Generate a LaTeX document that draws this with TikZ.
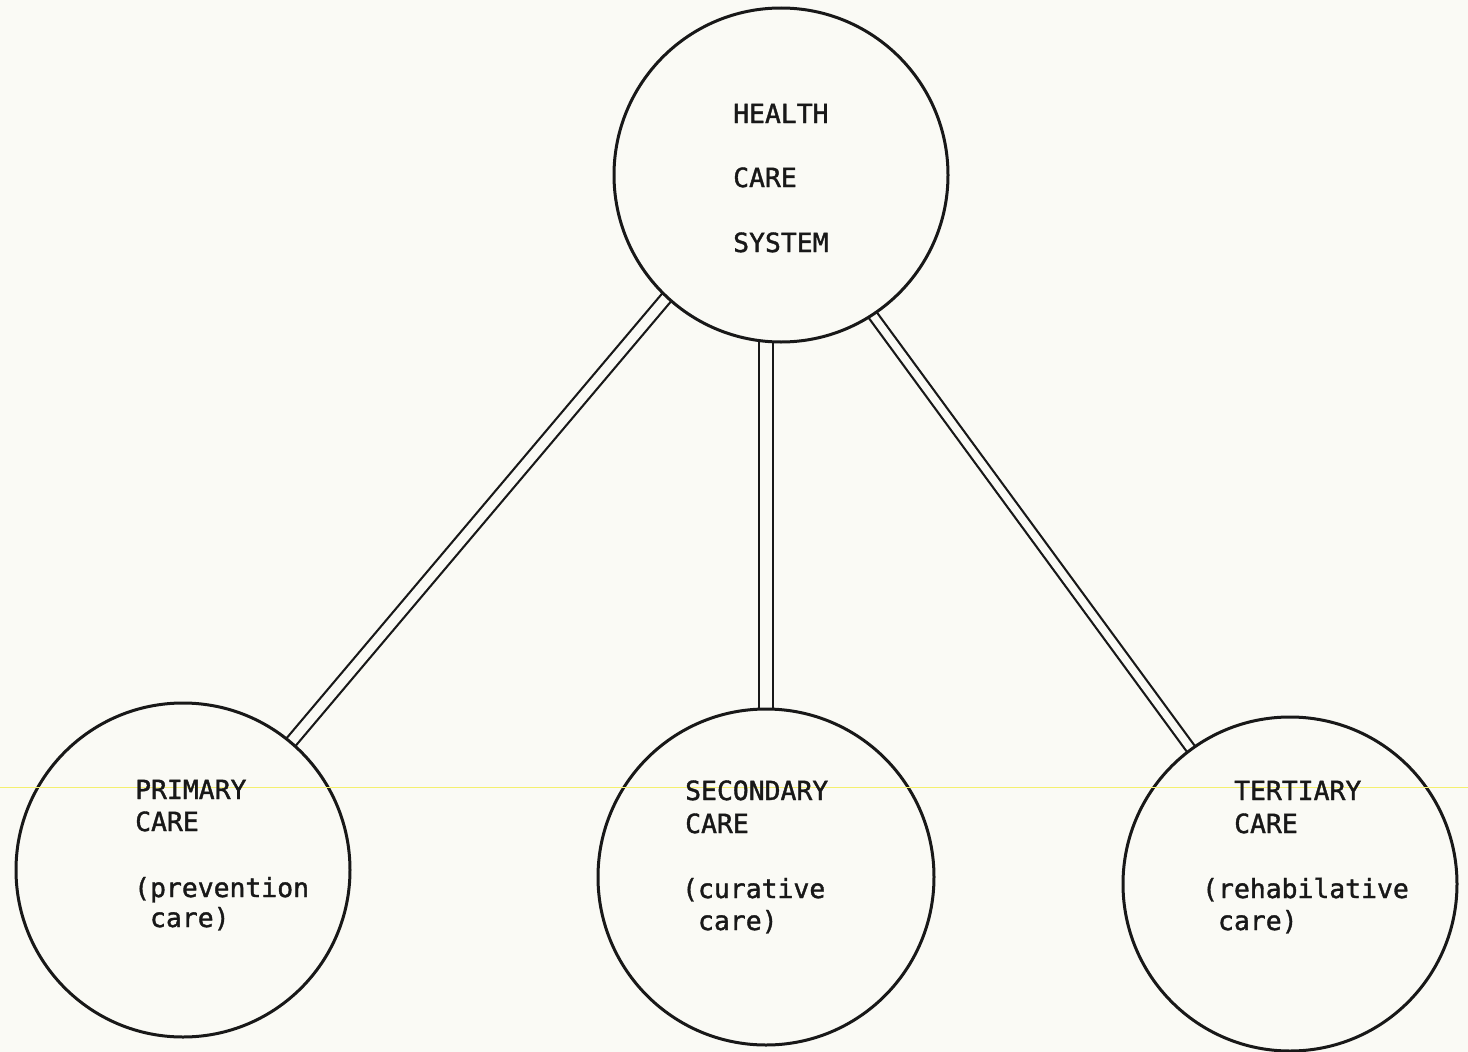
\documentclass[tikz,border=0pt]{standalone}
\usepackage{fontspec}
\newfontfamily\typer[FakeBold=1.4]{DejaVu Sans Mono}
\usetikzlibrary{backgrounds}
\definecolor{paper}{RGB}{250,250,245}
\definecolor{ink}{RGB}{24,24,24}
\definecolor{scanline}{RGB}{244,240,110}
\begin{document}
\begin{tikzpicture}[x=1pt,y=-1pt,
  ring/.style={circle, draw=ink, line width=3pt, fill=paper, inner sep=0pt},
  link/.style={draw=ink, line width=2.2pt, double=paper},
  lbl/.style={anchor=base west, inner sep=0pt, text=ink,
              font=\fontsize{26.4}{30}\selectfont\typer}]
  \useasboundingbox (0,0) rectangle (1468,1052);

  % the four circles
  \node[ring, minimum size=334pt] (top)  at (781,175) {};
  \node[ring, minimum size=334pt] (prim) at (183,870) {};
  \node[ring, minimum size=336pt] (sec)  at (766,877) {};
  \node[ring, minimum size=334pt] (tert) at (1290,884) {};
  \coordinate (hub) at (770,175);

  % paper and the double-line links, kept under the circles
  \begin{scope}[on background layer]
    \fill[paper] (0,0) rectangle (1468,1052);
    \draw[link, double distance=9.5pt] (hub) -- (prim.center);
    \draw[link, double distance=11.5pt] (sec.center |- top.center) -- (sec.center);
    \draw[link, double distance=7.5pt] (hub) -- (tert.center);
  \end{scope}

  % faint horizontal streak across the sheet
  \draw[scanline, line width=1pt] (0,787) -- (1468,787);

  % top circle
  \node[lbl] (t1) at (733,123) {HEALTH};
  \node[lbl] (t2) at (733,187) {CARE};
  \node[lbl] (t3) at (733,252) {SYSTEM};

  % primary care
  \node[lbl] (p1) at (135,799) {PRIMARY};
  \node[lbl] (p2) at (135,831) {CARE};
  \node[lbl] (p3) at (134,897) {(prevention};
  \node[lbl] (p4) at (134,927) {\ care)};

  % secondary care
  \node[lbl] (s1) at (685,800) {SECONDARY};
  \node[lbl] (s2) at (685,833) {CARE};
  \node[lbl] (s3) at (682,898) {(curative};
  \node[lbl] (s4) at (682,930) {\ care)};

  % tertiary care
  \node[lbl] (r1) at (1234,800) {TERTIARY};
  \node[lbl] (r2) at (1234,833) {CARE};
  \node[lbl] (r3) at (1202,898) {(rehabilative};
  \node[lbl] (r4) at (1202,930) {\ care)};
\end{tikzpicture}
\end{document}
